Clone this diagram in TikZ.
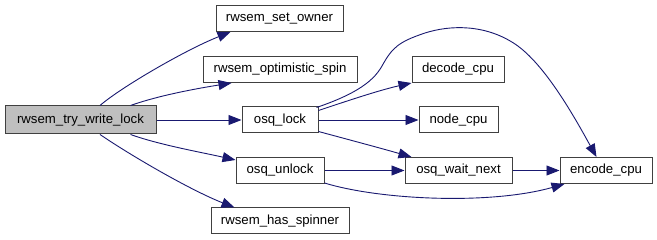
\documentclass[tikz,border=0pt]{standalone}
\usepackage{fontspec}
\setmainfont{Liberation Sans}
\usetikzlibrary{arrows.meta,calc}
\definecolor{edgeblue}{HTML}{191970}
\definecolor{boxline}{HTML}{404040}
\definecolor{rootfill}{HTML}{BFBFBF}
\tikzset{
  fn/.style={draw=boxline, line width=1pt, fill=white, inner sep=0pt,
    minimum height=26pt, font=\fontsize{13.2}{15}\selectfont},
  rootfn/.style={fn, fill=rootfill, minimum height=28pt},
  call/.style={draw=edgeblue, line width=0.9pt,
    -{Triangle[length=13pt,width=10pt]}, color=edgeblue},
}
\begin{document}
\begin{tikzpicture}[x=1pt,y=-1pt]
\useasboundingbox (0,0) rectangle (657,240);

% functions
\node[rootfn, minimum width=151pt] (root) at (80.5,120) {rwsem\_try\_write\_lock};
\node[fn, minimum width=127pt] (setowner) at (279.5,18.5) {rwsem\_set\_owner};
\node[fn, minimum width=154pt] (optspin) at (280,69.5) {rwsem\_optimistic\_spin};
\node[fn, minimum width=76pt] (osqlock) at (280,120) {osq\_lock};
\node[fn, minimum width=88pt] (osqunlock) at (280,170.5) {osq\_unlock};
\node[fn, minimum width=138pt] (hasspinner) at (280,221) {rwsem\_has\_spinner};
\node[fn, minimum width=92pt] (decode) at (458,69.5) {decode\_cpu};
\node[fn, minimum width=79pt] (nodecpu) at (458.5,120) {node\_cpu};
\node[fn, minimum width=107pt] (waitnext) at (458.5,170.5) {osq\_wait\_next};
\node[fn, minimum width=92pt] (encode) at (606,170.5) {encode\_cpu};

% calls from rwsem_try_write_lock
\draw[call] ($(root.north)+(19.5,0)$) .. controls (120,88) and (185,50) .. ($(setowner.south west)+(15,0)$);
\draw[call] ($(root.north east)+(-26,0)$) .. controls (160,95) and (200,88) .. ($(optspin.south west)+(29,0)$);
\draw[call] (root.east) -- (osqlock.west);
\draw[call] ($(root.south east)+(-26,0)$) .. controls (160,145) and (200,152) .. ($(osqunlock.north west)+(0,3)$);
\draw[call] ($(root.south)+(19.5,0)$) .. controls (130,155) and (190,190) .. ($(hasspinner.north west)+(24,0)$);

% calls from osq_lock
\draw[call] ($(osqlock.north east)+(-2,1)$) .. controls (350,96) and (372,84) .. (382,66)
  .. controls (392,48) and (398,42) .. (425,33)
  .. controls (450,25) and (485,24) .. (515,44)
  .. controls (545,64) and (575,118) .. ($(encode.north west)+(37,0)$);
\draw[call] ($(osqlock.north east)+(0,4)$) .. controls (350,100) and (380,90) .. (decode.south west);
\draw[call] (osqlock.east) -- (nodecpu.west);
\draw[call] ($(osqlock.south east)+(0,-2)$) .. controls (350,140) and (380,148) .. ($(waitnext.north west)+(7,0)$);

% calls from osq_unlock
\draw[call] (osqunlock.east) -- (waitnext.west);
\draw[call] ($(osqunlock.south east)+(0,-1)$) .. controls (380,200) and (490,205) .. ($(encode.south west)+(5,0)$);

% call from osq_wait_next
\draw[call] (waitnext.east) -- (encode.west);
\end{tikzpicture}
\end{document}
